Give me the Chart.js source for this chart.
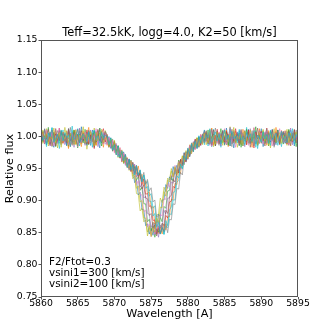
<!DOCTYPE html>
<html>
<head>
<meta charset="utf-8">
<script src="https://cdn.jsdelivr.net/npm/chart.js@4/dist/chart.umd.min.js"></script>
<style>
  html, body { margin: 0; padding: 0; background: #fff; }
  #wrap { width: 332px; height: 332px; }
</style>
</head>
<body>
<div id="wrap"><canvas id="chart" width="332" height="332"></canvas></div>
<script>
// wavelength grid [A]
const wave = [
  5860, 5860.25, 5860.5, 5860.75, 5861, 5861.25, 5861.5, 5861.75, 5862, 5862.25, 5862.5, 5862.75,
  5863, 5863.25, 5863.5, 5863.75, 5864, 5864.25, 5864.5, 5864.75, 5865, 5865.25, 5865.5, 5865.75,
  5866, 5866.25, 5866.5, 5866.75, 5867, 5867.25, 5867.5, 5867.75, 5868, 5868.25, 5868.5, 5868.75,
  5869, 5869.25, 5869.5, 5869.75, 5870, 5870.25, 5870.5, 5870.75, 5871, 5871.25, 5871.5, 5871.75,
  5872, 5872.25, 5872.5, 5872.75, 5873, 5873.25, 5873.5, 5873.75, 5874, 5874.25, 5874.5, 5874.75,
  5875, 5875.25, 5875.5, 5875.75, 5876, 5876.25, 5876.5, 5876.75, 5877, 5877.25, 5877.5, 5877.75,
  5878, 5878.25, 5878.5, 5878.75, 5879, 5879.25, 5879.5, 5879.75, 5880, 5880.25, 5880.5, 5880.75,
  5881, 5881.25, 5881.5, 5881.75, 5882, 5882.25, 5882.5, 5882.75, 5883, 5883.25, 5883.5, 5883.75,
  5884, 5884.25, 5884.5, 5884.75, 5885, 5885.25, 5885.5, 5885.75, 5886, 5886.25, 5886.5, 5886.75,
  5887, 5887.25, 5887.5, 5887.75, 5888, 5888.25, 5888.5, 5888.75, 5889, 5889.25, 5889.5, 5889.75,
  5890, 5890.25, 5890.5, 5890.75, 5891, 5891.25, 5891.5, 5891.75, 5892, 5892.25, 5892.5, 5892.75,
  5893, 5893.25, 5893.5, 5893.75, 5894, 5894.25, 5894.5, 5894.75, 5895
];

// one spectrum per epoch (relative flux)
const spec1 = [
  1.006, 0.989, 0.998, 1.012, 0.985, 0.994, 1.003, 0.991, 1.009, 0.982, 0.997, 1.005,
  0.990, 1.014, 0.996, 0.983, 1.002, 0.993, 1.008, 0.987, 0.999, 1.011, 0.988, 0.995,
  1.004, 0.980, 0.998, 1.007, 0.992, 1.013, 0.986, 0.999, 1.005, 0.990, 0.996, 1.009,
  1.001, 0.983, 0.993, 0.980, 0.994, 0.977, 0.967, 0.979, 0.963, 0.975, 0.959, 0.966,
  0.947, 0.954, 0.934, 0.939, 0.911, 0.910, 0.884, 0.888, 0.867, 0.870, 0.845, 0.858,
  0.847, 0.867, 0.856, 0.878, 0.879, 0.904, 0.897, 0.921, 0.914, 0.935, 0.932, 0.950,
  0.937, 0.952, 0.939, 0.962, 0.953, 0.970, 0.959, 0.972, 0.965, 0.987, 0.976, 0.991,
  0.981, 0.998, 0.983, 0.999, 0.992, 1.008, 0.987, 1.003, 0.995, 1.012, 0.984, 0.999,
  1.006, 0.991, 0.997, 1.010, 0.986, 1.002, 0.994, 1.015, 0.989, 0.998, 1.004, 0.983,
  0.996, 1.009, 0.992, 1.001, 0.987, 1.007, 0.998, 0.990, 1.013, 0.995, 0.985, 1.003,
  0.999, 1.011, 0.988, 0.996, 1.005, 0.982, 1.000, 0.993, 1.008, 0.997, 0.989, 1.006,
  0.994, 1.002, 0.986, 1.010, 0.998, 0.991, 1.004, 0.996, 0.988
];
const spec2 = [
  0.993, 1.008, 0.999, 0.984, 1.005, 0.996, 1.013, 0.990, 0.998, 1.003, 0.981, 1.001,
  1.010, 0.994, 0.987, 1.006, 0.999, 1.016, 0.991, 0.997, 1.004, 0.985, 1.002, 0.995,
  0.988, 1.007, 0.996, 1.001, 0.983, 1.009, 0.994, 0.999, 1.012, 0.990, 1.003, 0.993,
  0.989, 1.000, 0.982, 0.996, 0.979, 0.986, 0.968, 0.979, 0.964, 0.976, 0.955, 0.964,
  0.963, 0.946, 0.955, 0.943, 0.955, 0.939, 0.948, 0.929, 0.940, 0.926, 0.930, 0.907,
  0.911, 0.888, 0.892, 0.865, 0.869, 0.848, 0.859, 0.847, 0.860, 0.858, 0.880, 0.878,
  0.901, 0.901, 0.929, 0.931, 0.954, 0.949, 0.967, 0.960, 0.979, 0.972, 0.989, 0.977,
  0.992, 0.983, 1.001, 0.990, 1.001, 0.994, 1.007, 0.985, 1.002, 0.996, 1.011, 0.989,
  0.998, 1.005, 0.983, 1.009, 0.993, 1.000, 0.987, 1.012, 0.995, 1.003, 0.990, 1.007,
  0.985, 0.999, 1.006, 0.992, 1.014, 0.996, 0.988, 1.004, 0.997, 1.009, 0.981, 1.001,
  0.994, 1.008, 0.990, 0.999, 1.005, 0.986, 1.011, 0.997, 0.992, 1.004, 0.998, 0.984,
  1.007, 0.995, 1.002, 0.989, 1.010, 0.997, 0.993, 1.006, 0.999
];
const spec3 = [
  1.002, 0.995, 1.011, 0.987, 0.999, 1.006, 0.992, 0.983, 1.004, 0.997, 1.009, 0.990,
  0.996, 1.003, 0.985, 1.012, 0.994, 1.000, 0.988, 1.007, 0.998, 0.991, 1.015, 0.993,
  0.999, 0.986, 1.005, 0.995, 1.010, 0.989, 1.001, 0.996, 0.982, 1.008, 0.994, 1.003,
  0.997, 0.986, 0.998, 0.978, 0.988, 0.976, 0.985, 0.967, 0.976, 0.958, 0.967, 0.955,
  0.965, 0.948, 0.951, 0.928, 0.932, 0.909, 0.913, 0.886, 0.886, 0.861, 0.864, 0.848,
  0.857, 0.846, 0.865, 0.860, 0.879, 0.875, 0.901, 0.901, 0.925, 0.919, 0.937, 0.932,
  0.953, 0.941, 0.955, 0.946, 0.964, 0.957, 0.975, 0.962, 0.978, 0.968, 0.987, 0.981,
  0.995, 0.985, 0.999, 0.986, 0.999, 1.010, 0.992, 0.997, 1.005, 0.984, 1.001, 0.994,
  1.008, 0.990, 0.999, 1.004, 0.987, 1.013, 0.996, 0.991, 1.006, 0.982, 1.000, 0.993,
  1.009, 0.997, 0.985, 1.003, 0.994, 1.011, 0.990, 0.998, 1.005, 0.988, 1.002, 0.996,
  1.012, 0.984, 1.001, 0.995, 1.007, 0.991, 0.998, 1.004, 0.987, 1.010, 0.993, 0.999,
  1.005, 0.989, 0.996, 1.008, 0.992, 1.003, 0.985, 1.000, 0.997
];
const spec4 = [
  0.987, 1.004, 0.996, 1.009, 0.991, 1.001, 0.985, 0.998, 1.012, 0.994, 1.003, 0.989,
  1.007, 0.992, 0.999, 0.981, 1.005, 0.996, 1.010, 0.988, 1.002, 0.995, 0.984, 1.008,
  0.993, 1.001, 1.014, 0.990, 0.997, 1.004, 0.986, 1.009, 0.995, 0.999, 0.983, 1.006,
  0.986, 0.997, 0.985, 0.995, 0.976, 0.986, 0.974, 0.982, 0.960, 0.972, 0.957, 0.967,
  0.953, 0.962, 0.942, 0.955, 0.941, 0.954, 0.934, 0.941, 0.923, 0.931, 0.911, 0.914,
  0.888, 0.891, 0.864, 0.869, 0.849, 0.859, 0.848, 0.864, 0.854, 0.875, 0.875, 0.902,
  0.901, 0.927, 0.925, 0.946, 0.942, 0.966, 0.961, 0.975, 0.965, 0.986, 0.976, 0.990,
  0.980, 0.996, 0.988, 1.003, 0.989, 0.999, 1.008, 0.991, 0.996, 1.013, 0.987, 1.002,
  0.994, 1.006, 0.989, 1.001, 0.997, 1.010, 0.984, 0.999, 1.005, 0.992, 1.008, 0.995,
  1.002, 0.987, 1.011, 0.996, 0.991, 1.004, 0.999, 0.983, 1.007, 0.994, 1.000, 1.012,
  0.990, 0.998, 1.005, 0.986, 1.009, 0.995, 1.002, 0.991, 1.014, 0.997, 0.988, 1.003,
  0.996, 1.009, 0.992, 1.001, 0.985, 1.006, 0.998, 0.993, 1.004
];
const spec5 = [
  1.009, 0.992, 1.001, 0.996, 1.014, 0.988, 0.997, 1.005, 0.984, 1.002, 0.993, 1.008,
  0.995, 0.999, 1.006, 0.986, 1.003, 0.991, 1.010, 0.997, 0.982, 1.004, 0.998, 0.990,
  1.011, 0.994, 0.987, 1.002, 0.999, 1.008, 0.991, 0.996, 1.013, 0.985, 1.000, 0.997,
  1.000, 0.988, 0.997, 0.977, 0.987, 0.973, 0.986, 0.969, 0.976, 0.959, 0.968, 0.957,
  0.950, 0.963, 0.946, 0.953, 0.932, 0.937, 0.916, 0.921, 0.895, 0.895, 0.867, 0.871,
  0.853, 0.860, 0.843, 0.856, 0.851, 0.874, 0.867, 0.891, 0.888, 0.915, 0.916, 0.938,
  0.930, 0.951, 0.945, 0.963, 0.950, 0.965, 0.956, 0.976, 0.969, 0.985, 0.975, 0.989,
  0.982, 0.997, 0.984, 1.000, 0.991, 1.006, 0.993, 1.010, 0.988, 0.999, 1.004, 0.985,
  1.001, 0.995, 1.012, 0.990, 0.998, 1.007, 0.986, 1.003, 0.994, 1.009, 0.991, 0.997,
  1.005, 0.983, 1.000, 0.996, 1.011, 0.989, 1.004, 0.993, 0.999, 1.015, 0.987, 1.002,
  0.997, 1.006, 0.992, 1.003, 0.985, 1.008, 0.996, 1.001, 0.990, 1.010, 0.994, 0.999,
  0.988, 1.005, 0.997, 1.011, 0.993, 0.999, 1.006, 0.984, 1.002
];
const spec6 = [
  0.998, 1.007, 0.990, 1.003, 0.995, 0.986, 1.010, 0.999, 1.004, 0.992, 1.013, 0.996,
  0.989, 1.002, 0.997, 1.009, 0.984, 1.006, 0.993, 1.000, 1.011, 0.990, 0.998, 1.005,
  0.994, 1.010, 0.988, 1.003, 0.996, 0.981, 1.007, 0.999, 0.992, 1.005, 1.012, 0.991,
  1.003, 0.985, 0.994, 0.982, 0.991, 0.971, 0.983, 0.969, 0.977, 0.961, 0.972, 0.952,
  0.962, 0.945, 0.958, 0.944, 0.954, 0.938, 0.943, 0.925, 0.934, 0.910, 0.911, 0.891,
  0.892, 0.869, 0.870, 0.848, 0.859, 0.848, 0.858, 0.852, 0.877, 0.873, 0.898, 0.899,
  0.922, 0.920, 0.943, 0.944, 0.964, 0.954, 0.969, 0.960, 0.981, 0.972, 0.987, 0.976,
  0.996, 0.984, 0.996, 0.986, 1.002, 0.990, 1.004, 0.997, 1.009, 0.986, 1.001, 0.995,
  1.011, 0.988, 1.003, 0.996, 0.991, 1.008, 0.999, 0.985, 1.005, 0.993, 1.012, 0.997,
  0.990, 1.006, 0.998, 1.002, 0.987, 1.010, 0.994, 1.000, 0.982, 1.007, 0.996, 1.003,
  1.008, 0.993, 0.999, 1.013, 0.989, 1.004, 0.995, 0.987, 1.006, 1.001, 0.992, 1.009,
  0.995, 1.002, 0.988, 1.007, 0.999, 0.991, 1.010, 0.996, 1.003
];
const spec7 = [
  0.991, 1.002, 1.010, 0.994, 0.999, 0.985, 1.006, 0.997, 1.012, 0.989, 1.003, 0.995,
  1.004, 0.987, 0.998, 1.009, 0.993, 1.001, 0.983, 1.007, 0.996, 1.013, 0.990, 0.999,
  0.986, 1.005, 0.997, 1.010, 0.992, 1.001, 1.008, 0.984, 0.999, 0.993, 1.006, 0.988,
  0.990, 0.999, 0.981, 0.992, 0.978, 0.989, 0.970, 0.978, 0.961, 0.975, 0.958, 0.966,
  0.948, 0.960, 0.947, 0.957, 0.937, 0.943, 0.921, 0.926, 0.904, 0.907, 0.880, 0.879,
  0.858, 0.866, 0.847, 0.857, 0.843, 0.862, 0.859, 0.885, 0.879, 0.904, 0.904, 0.929,
  0.927, 0.950, 0.941, 0.960, 0.949, 0.966, 0.959, 0.976, 0.964, 0.983, 0.977, 0.992,
  0.981, 0.995, 0.983, 1.002, 0.990, 1.007, 0.994, 1.001, 0.986, 1.011, 0.996, 0.990,
  1.004, 0.998, 0.985, 1.009, 0.993, 1.002, 0.996, 1.014, 0.988, 1.000, 0.995, 1.006,
  0.992, 1.008, 0.997, 0.984, 1.005, 0.999, 1.012, 0.990, 0.996, 1.003, 0.987, 1.009,
  1.000, 0.994, 1.007, 0.989, 1.002, 0.997, 1.011, 0.985, 0.998, 1.006, 0.993, 1.004,
  0.990, 1.008, 0.996, 0.999, 1.013, 0.987, 1.003, 0.995, 1.001
];
const spec8 = [
  1.005, 0.996, 0.988, 1.002, 1.011, 0.993, 0.999, 1.007, 0.985, 1.003, 0.994, 1.009,
  0.997, 1.004, 0.990, 1.012, 0.995, 0.986, 1.006, 0.999, 1.003, 0.991, 1.009, 0.994,
  1.002, 0.988, 1.008, 0.996, 1.004, 0.983, 0.998, 1.011, 0.993, 1.000, 0.989, 1.006,
  0.999, 0.983, 0.995, 0.980, 0.992, 0.976, 0.984, 0.966, 0.975, 0.962, 0.971, 0.953,
  0.964, 0.949, 0.960, 0.941, 0.950, 0.936, 0.943, 0.918, 0.924, 0.904, 0.903, 0.877,
  0.880, 0.857, 0.862, 0.845, 0.860, 0.848, 0.865, 0.861, 0.885, 0.880, 0.906, 0.908,
  0.933, 0.929, 0.948, 0.943, 0.964, 0.956, 0.974, 0.963, 0.978, 0.969, 0.987, 0.980,
  0.993, 0.981, 0.999, 0.989, 1.003, 0.993, 1.006, 0.988, 1.002, 0.997, 1.010, 0.985,
  0.999, 1.005, 0.991, 1.008, 0.996, 0.987, 1.003, 0.994, 1.011, 0.990, 0.998, 1.004,
  0.986, 1.001, 0.995, 1.009, 0.992, 1.006, 0.983, 0.999, 1.004, 0.996, 1.013, 0.989,
  1.003, 0.997, 0.985, 1.007, 0.994, 1.000, 1.010, 0.991, 0.998, 1.005, 0.987, 1.002,
  1.008, 0.993, 0.999, 0.986, 1.004, 0.997, 1.011, 0.990, 0.996
];
const spec9 = [
  0.996, 1.004, 0.989, 1.010, 0.998, 0.992, 1.006, 0.985, 1.001, 0.997, 1.013, 0.990,
  1.002, 0.995, 1.008, 0.987, 0.999, 1.005, 0.993, 1.011, 0.984, 0.998, 1.003, 0.996,
  1.007, 0.991, 0.999, 0.986, 1.004, 0.997, 1.012, 0.990, 1.002, 0.995, 0.988, 1.005,
  0.987, 0.998, 0.984, 0.994, 0.974, 0.985, 0.973, 0.983, 0.964, 0.974, 0.955, 0.964,
  0.952, 0.962, 0.942, 0.948, 0.925, 0.931, 0.909, 0.909, 0.883, 0.885, 0.859, 0.864,
  0.844, 0.858, 0.848, 0.865, 0.857, 0.879, 0.876, 0.903, 0.902, 0.927, 0.921, 0.940,
  0.936, 0.955, 0.945, 0.961, 0.948, 0.966, 0.958, 0.975, 0.969, 0.986, 0.973, 0.989,
  0.979, 0.996, 0.987, 1.003, 0.989, 1.004, 0.991, 0.998, 1.008, 0.985, 1.002, 0.996,
  0.989, 1.007, 0.994, 1.001, 1.012, 0.988, 0.997, 1.005, 0.992, 1.009, 0.983, 1.000,
  0.998, 1.010, 0.991, 1.003, 0.996, 0.986, 1.006, 0.999, 1.014, 0.993, 1.001, 0.990,
  1.005, 0.988, 0.997, 1.009, 0.994, 1.003, 0.985, 1.007, 0.998, 0.991, 1.012, 0.996,
  1.001, 0.993, 1.006, 0.987, 0.999, 1.008, 0.994, 1.003, 0.989
];
const spec10 = [
  1.003, 0.997, 1.012, 0.990, 0.995, 1.007, 0.984, 1.000, 0.993, 1.009, 0.998, 0.987,
  1.006, 0.992, 1.001, 0.996, 1.014, 0.989, 0.999, 1.004, 0.985, 1.008, 0.994, 1.002,
  0.990, 0.998, 1.010, 0.993, 1.005, 0.987, 0.999, 1.003, 1.012, 0.991, 0.996, 1.008,
  1.002, 0.987, 0.995, 0.977, 0.990, 0.974, 0.982, 0.967, 0.979, 0.963, 0.969, 0.951,
  0.961, 0.947, 0.959, 0.943, 0.955, 0.939, 0.947, 0.931, 0.944, 0.925, 0.933, 0.915,
  0.920, 0.898, 0.901, 0.874, 0.878, 0.858, 0.864, 0.851, 0.864, 0.850, 0.871, 0.870,
  0.895, 0.894, 0.919, 0.918, 0.944, 0.940, 0.967, 0.963, 0.979, 0.970, 0.990, 0.978,
  0.994, 0.982, 0.997, 0.988, 1.004, 0.992, 1.009, 0.996, 1.003, 0.987, 1.000, 1.013,
  0.994, 0.986, 1.005, 0.998, 1.010, 0.991, 1.002, 0.995, 0.984, 1.007, 0.999, 1.004,
  0.993, 1.011, 0.988, 1.000, 1.006, 0.997, 0.990, 1.009, 0.985, 1.003, 0.996, 1.001,
  0.989, 1.004, 0.998, 1.012, 0.991, 0.997, 1.006, 0.983, 1.000, 1.009, 0.994, 1.005,
  0.997, 0.990, 1.008, 1.001, 0.986, 1.005, 0.994, 1.010, 0.998
];
const spec11 = [
  0.992, 1.010, 0.997, 1.004, 0.988, 1.001, 0.995, 1.013, 0.990, 0.999, 1.006, 0.983,
  1.001, 0.996, 1.009, 0.991, 1.004, 0.998, 0.987, 1.010, 0.994, 1.002, 0.997, 1.015,
  0.989, 1.003, 0.995, 1.008, 0.999, 0.985, 1.006, 0.993, 1.000, 1.011, 0.990, 0.997,
  0.998, 0.984, 0.996, 0.981, 0.992, 0.973, 0.983, 0.970, 0.978, 0.958, 0.968, 0.954,
  0.951, 0.961, 0.938, 0.942, 0.919, 0.923, 0.898, 0.900, 0.873, 0.873, 0.851, 0.861,
  0.844, 0.858, 0.851, 0.873, 0.866, 0.890, 0.889, 0.914, 0.907, 0.932, 0.929, 0.946,
  0.937, 0.953, 0.941, 0.959, 0.951, 0.969, 0.960, 0.978, 0.966, 0.981, 0.973, 0.990,
  0.983, 0.998, 0.985, 0.999, 0.987, 1.005, 0.996, 0.990, 1.011, 0.993, 1.002, 0.988,
  1.007, 0.995, 1.001, 0.986, 1.009, 0.997, 0.992, 1.004, 0.999, 1.014, 0.989, 1.000,
  0.996, 1.003, 0.985, 1.008, 0.993, 0.999, 1.010, 0.990, 1.005, 0.998, 0.987, 1.006,
  0.995, 1.009, 0.992, 1.001, 0.986, 1.004, 0.998, 1.012, 0.991, 0.997, 1.006, 0.989,
  1.002, 0.996, 1.011, 0.990, 1.005, 0.993, 0.999, 1.007, 0.995
];
const spec12 = [
  1.008, 0.994, 1.000, 0.987, 1.005, 0.999, 1.014, 0.991, 0.996, 1.003, 0.989, 1.010,
  0.993, 1.006, 0.998, 1.002, 0.984, 1.009, 0.995, 1.001, 1.012, 0.990, 0.997, 1.004,
  0.998, 0.992, 1.007, 0.986, 1.003, 1.010, 0.995, 1.001, 0.989, 1.006, 0.997, 1.002,
  1.000, 0.987, 0.997, 0.979, 0.987, 0.971, 0.985, 0.968, 0.977, 0.962, 0.972, 0.952,
  0.964, 0.948, 0.956, 0.940, 0.954, 0.940, 0.947, 0.929, 0.940, 0.919, 0.922, 0.899,
  0.899, 0.876, 0.880, 0.858, 0.866, 0.848, 0.858, 0.848, 0.869, 0.861, 0.886, 0.890,
  0.913, 0.914, 0.939, 0.935, 0.957, 0.950, 0.970, 0.963, 0.982, 0.973, 0.988, 0.976,
  0.992, 0.981, 1.000, 0.990, 1.001, 0.987, 1.003, 0.998, 1.012, 0.991, 1.000, 1.007,
  0.993, 1.004, 0.988, 0.999, 1.010, 0.995, 1.002, 0.985, 1.008, 0.996, 1.001, 0.990,
  1.011, 0.994, 1.000, 0.987, 1.006, 0.998, 1.004, 0.992, 1.009, 0.983, 1.002, 0.997,
  0.991, 1.007, 0.996, 1.003, 0.989, 1.010, 0.994, 1.000, 1.005, 0.986, 0.999, 1.008,
  0.994, 1.001, 0.990, 1.006, 0.997, 1.012, 0.988, 1.003, 0.995
];

const spectra = [spec1, spec2, spec3, spec4, spec5, spec6, spec7, spec8, spec9, spec10, spec11, spec12];

const xTicks = [5860, 5865, 5870, 5875, 5880, 5885, 5890, 5895];
const yTicks = [0.75, 0.80, 0.85, 0.90, 0.95, 1.00, 1.05, 1.10, 1.15];

const titleText = 'Teff=32.5kK, logg=4.0, K2=50 [km/s]';
const noteLines = ['F2/Ftot=0.3', 'vsini1=300 [km/s]', 'vsini2=100 [km/s]'];

// matplotlib tab10
const colors = ['#1f77b4', '#ff7f0e', '#2ca02c', '#d62728', '#9467bd',
                '#8c564b', '#e377c2', '#7f7f7f', '#bcbd22', '#17becf'];

const FONT = "'DejaVu Sans', sans-serif";

function hexA(hex, a) {
  const n = parseInt(hex.slice(1), 16);
  return `rgba(${(n >> 16) & 255}, ${(n >> 8) & 255}, ${n & 255}, ${a})`;
}

const datasets = spectra.map((flux, k) => ({
  data: flux.map((f, i) => ({ x: wave[i], y: f })),
  borderColor: hexA(colors[(k + 8) % colors.length], 0.6), // olive / cyan end on top
  borderWidth: 1,
  pointRadius: 0,
  tension: 0,
  fill: false,
  order: spectra.length - k, // later spectra on top, as matplotlib does
}));

// frame, title and the text box in the lower left
const decor = {
  id: 'decor',
  afterDraw(chart) {
    const { ctx, chartArea: a } = chart;
    ctx.save();
    ctx.strokeStyle = '#555';
    ctx.lineWidth = 1;
    ctx.strokeRect(Math.round(a.left) + 0.5, Math.round(a.top) + 0.5,
      Math.round(a.right - a.left) - 1, Math.round(a.bottom - a.top) - 1);

    ctx.fillStyle = '#000';
    ctx.font = `11.4px ${FONT}`;
    ctx.textAlign = 'center';
    ctx.textBaseline = 'middle';
    ctx.fillText(titleText, (a.left + a.right) / 2, 33);

    ctx.font = `10.4px ${FONT}`;
    ctx.textAlign = 'left';
    noteLines.forEach((t, i) => ctx.fillText(t, a.left + 8, 262 + i * 11.3));
    ctx.restore();
  }
};

new Chart(document.getElementById('chart'), {
  type: 'line',
  data: { datasets },
  plugins: [decor],
  options: {
    responsive: false,
    animation: false,
    devicePixelRatio: 1,
    parsing: false,
    normalized: true,
    layout: { padding: { top: 40, right: 34, bottom: 0, left: 0 } },
    plugins: {
      legend: { display: false },
      tooltip: { enabled: false },
      title: { display: false },
    },
    scales: {
      x: {
        type: 'linear',
        min: 5860,
        max: 5895,
        afterFit: s => { s.height = 35; },
        afterBuildTicks: s => { s.ticks = xTicks.map(v => ({ value: v })); },
        border: { display: false },
        grid: { drawOnChartArea: false, drawTicks: true, tickLength: 2.5, tickColor: '#555' },
        ticks: {
          color: '#000',
          padding: -1,
          maxRotation: 0,
          font: { family: FONT, size: 9.3 },
          callback: v => String(v),
        },
        title: {
          display: true,
          text: 'Wavelength [A]',
          color: '#000',
          font: { family: FONT, size: 11.2 },
          padding: { top: 0, bottom: 11 },
        },
      },
      y: {
        type: 'linear',
        min: 0.75,
        max: 1.15,
        afterFit: s => { s.width = 41; },
        afterBuildTicks: s => { s.ticks = yTicks.map(v => ({ value: v })); },
        border: { display: false },
        grid: { drawOnChartArea: false, drawTicks: true, tickLength: 2.5, tickColor: '#555' },
        ticks: {
          color: '#000',
          padding: 1,
          font: { family: FONT, size: 9.3 },
          callback: v => Number(v).toFixed(2),
        },
        title: {
          display: true,
          text: 'Relative flux',
          color: '#000',
          font: { family: FONT, size: 11.2 },
          padding: { top: 3, bottom: 0 },
        },
      },
    },
  },
});
</script>
</body>
</html>
